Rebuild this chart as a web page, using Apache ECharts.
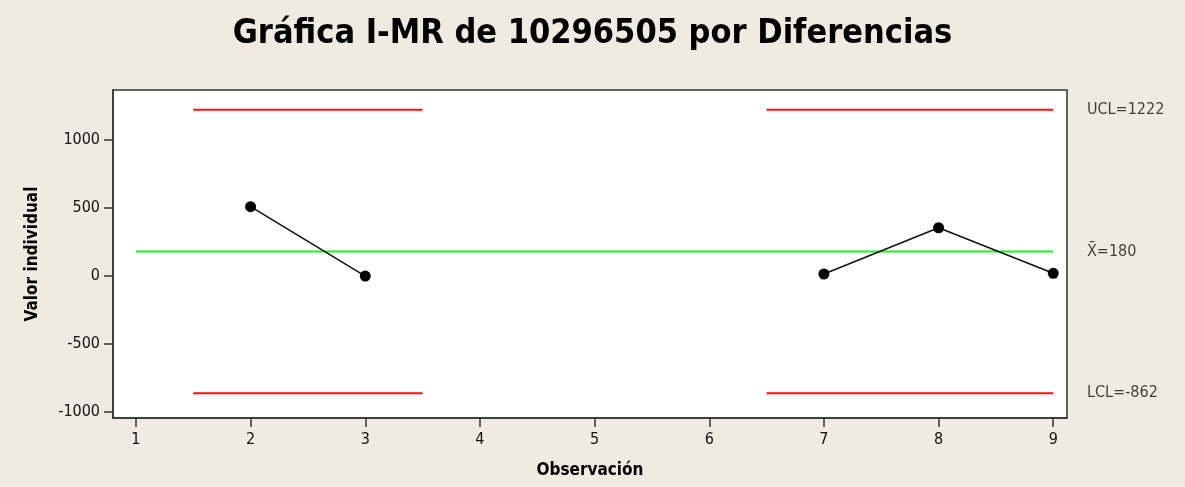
<!DOCTYPE html>
<html><head><meta charset="utf-8">
<script src="https://cdn.jsdelivr.net/npm/echarts@6/dist/echarts.min.js"></script>
<style>html,body{margin:0;padding:0;background:#fff}#c{width:1185px;height:487px}</style>
</head><body><div id="c"></div>
<script>
var titleText = 'Gráfica I-MR de 10296505 por Diferencias';
var xTicks = [1, 2, 3, 4, 5, 6, 7, 8, 9];
var yTicks = [-1000, -500, 0, 500, 1000];
var observations = [2, 3, 7, 8, 9];
var values = [510, 0, 15, 355, 20];
var ucl = 1222, center = 180, lcl = -862;
var limitSegments = [[1.5, 3.5], [6.5, 9]];
var centerSpan = [1, 9];
var limitLabels = ['UCL=1222', 'X\u0304=180', 'LCL=-862'];

var font = 'DejaVu Sans Condensed';
var xMin = 0.8, xMax = 9.12, yMin = -1044, yMax = 1368;

var pts = [];
for (var i = 0; i < observations.length; i++) {
  if (i > 0 && observations[i] - observations[i - 1] > 1) pts.push([observations[i - 1] + 1, null]);
  pts.push([observations[i], values[i]]);
}
function segData(v) {
  var d = [];
  limitSegments.forEach(function (s, k) {
    if (k > 0) d.push([s[0] - 0.01, null]);
    d.push([s[0], v]); d.push([s[1], v]);
  });
  return d;
}
var limVals = [ucl, center, lcl];
var chart = echarts.init(document.getElementById('c'));
chart.setOption({
  backgroundColor: '#EFEBE0',
  animation: false,
  title: {text: titleText, left: 'center', top: 12,
    textStyle: {fontFamily: font, fontWeight: 'bold', fontSize: 34, color: '#000'}},
  grid: {left: 113, right: 118, top: 90, bottom: 69, show: true, backgroundColor: '#fff',
    borderColor: '#333', borderWidth: 1.5},
  xAxis: {type: 'value', min: xMin, max: xMax,
    name: 'Observación', nameLocation: 'middle', nameGap: 44,
    nameTextStyle: {fontFamily: font, fontWeight: 'bold', fontSize: 17, color: '#000'},
    axisLine: {onZero: false, lineStyle: {color: '#333', width: 1.5}},
    axisTick: {customValues: xTicks, length: 9, lineStyle: {color: '#333', width: 1.5}},
    axisLabel: {customValues: xTicks, fontFamily: font, fontSize: 16, color: '#111', margin: 14,
      formatter: function (v) { return String(v); }},
    splitLine: {show: false}},
  yAxis: {type: 'value', min: yMin, max: yMax,
    name: 'Valor individual', nameLocation: 'middle', nameGap: 72, nameRotate: 90,
    nameTextStyle: {fontFamily: font, fontWeight: 'bold', fontSize: 17, color: '#000'},
    axisLine: {onZero: false, lineStyle: {color: '#333', width: 1.5}},
    axisTick: {customValues: yTicks, length: 9, lineStyle: {color: '#333', width: 1.5}},
    axisLabel: {customValues: yTicks, fontFamily: font, fontSize: 16, color: '#111', margin: 13,
      formatter: function (v) { return String(v); }},
    splitLine: {show: false}},
  series: [
    {type: 'line', data: segData(ucl), symbol: 'none', lineStyle: {color: '#ff1010', width: 2}, silent: true},
    {type: 'line', data: segData(lcl), symbol: 'none', lineStyle: {color: '#ff1010', width: 2}, silent: true},
    {type: 'line', data: [[centerSpan[0], center], [centerSpan[1], center]], symbol: 'none',
      lineStyle: {color: '#22ee22', width: 2}, silent: true},
    {type: 'line', data: pts, symbol: 'circle', symbolSize: 11, connectNulls: false,
      itemStyle: {color: '#000'}, lineStyle: {color: '#111', width: 1.5}, z: 5},
    {type: 'scatter', clip: false, symbolSize: 0,
      data: limVals.map(function (v, k) { return {value: [xMax, v], label: {formatter: limitLabels[k]}}; }),
      label: {show: true, position: 'right', distance: 20, fontFamily: font, fontSize: 16, color: '#111'}}
  ]
});
</script></body></html>
